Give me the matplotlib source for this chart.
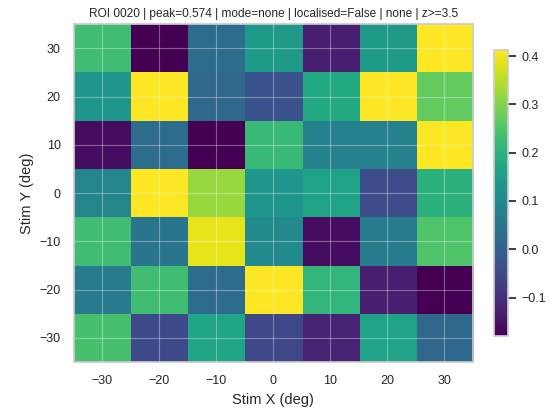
import matplotlib
matplotlib.use("Agg")
import matplotlib.pyplot as plt
import numpy as np
import seaborn as sns

# stimulus grid centres (deg)
stim_x = [-30, -20, -10, 0, 10, 20, 30]
stim_y = [-30, -20, -10, 0, 10, 20, 30]

# response map, rows from y=-30 (bottom) to y=30 (top)
row_ym30 = [0.24, -0.05, 0.17, -0.055, -0.12, 0.16, 0.02]
row_ym20 = [0.065, 0.23, 0.03, 0.42, 0.21, -0.13, -0.19]
row_ym10 = [0.23, 0.05, 0.39, 0.10, -0.16, 0.07, 0.25]
row_y0 = [0.09, 0.42, 0.32, 0.13, 0.16, -0.04, 0.20]
row_y10 = [-0.16, 0.03, -0.19, 0.22, 0.08, 0.08, 0.42]
row_y20 = [0.13, 0.42, 0.02, -0.03, 0.18, 0.42, 0.27]
row_y30 = [0.23, -0.19, 0.03, 0.14, -0.13, 0.14, 0.42]

vmin, vmax = -0.18, 0.412
title = "ROI 0020 | peak=0.574 | mode=none | localised=False | none | z>=3.5"

sns.set_theme(style="whitegrid")
plt.rcParams["font.family"] = ["Liberation Sans", "DejaVu Sans"]

grid = np.array([row_ym30, row_ym20, row_ym10, row_y0, row_y10, row_y20, row_y30])
step = stim_x[1] - stim_x[0]
extent = [stim_x[0] - step / 2, stim_x[-1] + step / 2,
          stim_y[0] - step / 2, stim_y[-1] + step / 2]

fig = plt.figure(figsize=(5.59, 4.09), dpi=100)
ax = fig.add_axes([0.132, 0.115, 0.714, 0.826])
im = ax.imshow(grid, origin="lower", extent=extent, cmap="viridis",
               vmin=vmin, vmax=vmax, aspect="auto")
ax.set_xticks(stim_x)
ax.set_yticks(stim_y)
ax.grid(True, color="white", alpha=0.35, linewidth=0.8)
ax.tick_params(labelsize=9)
ax.set_xlabel("Stim X (deg)", fontsize=10.5)
ax.set_ylabel("Stim Y (deg)", fontsize=10.5)
ax.set_title(title, fontsize=8.6, pad=5)

cax = fig.add_axes([0.884, 0.178, 0.025, 0.699])
cb = fig.colorbar(im, cax=cax)
cb.set_ticks([-0.1, 0.0, 0.1, 0.2, 0.3, 0.4])
cb.ax.tick_params(labelsize=9)
cb.outline.set_edgecolor("#cccccc")

fig.savefig("out.png", dpi=100)
